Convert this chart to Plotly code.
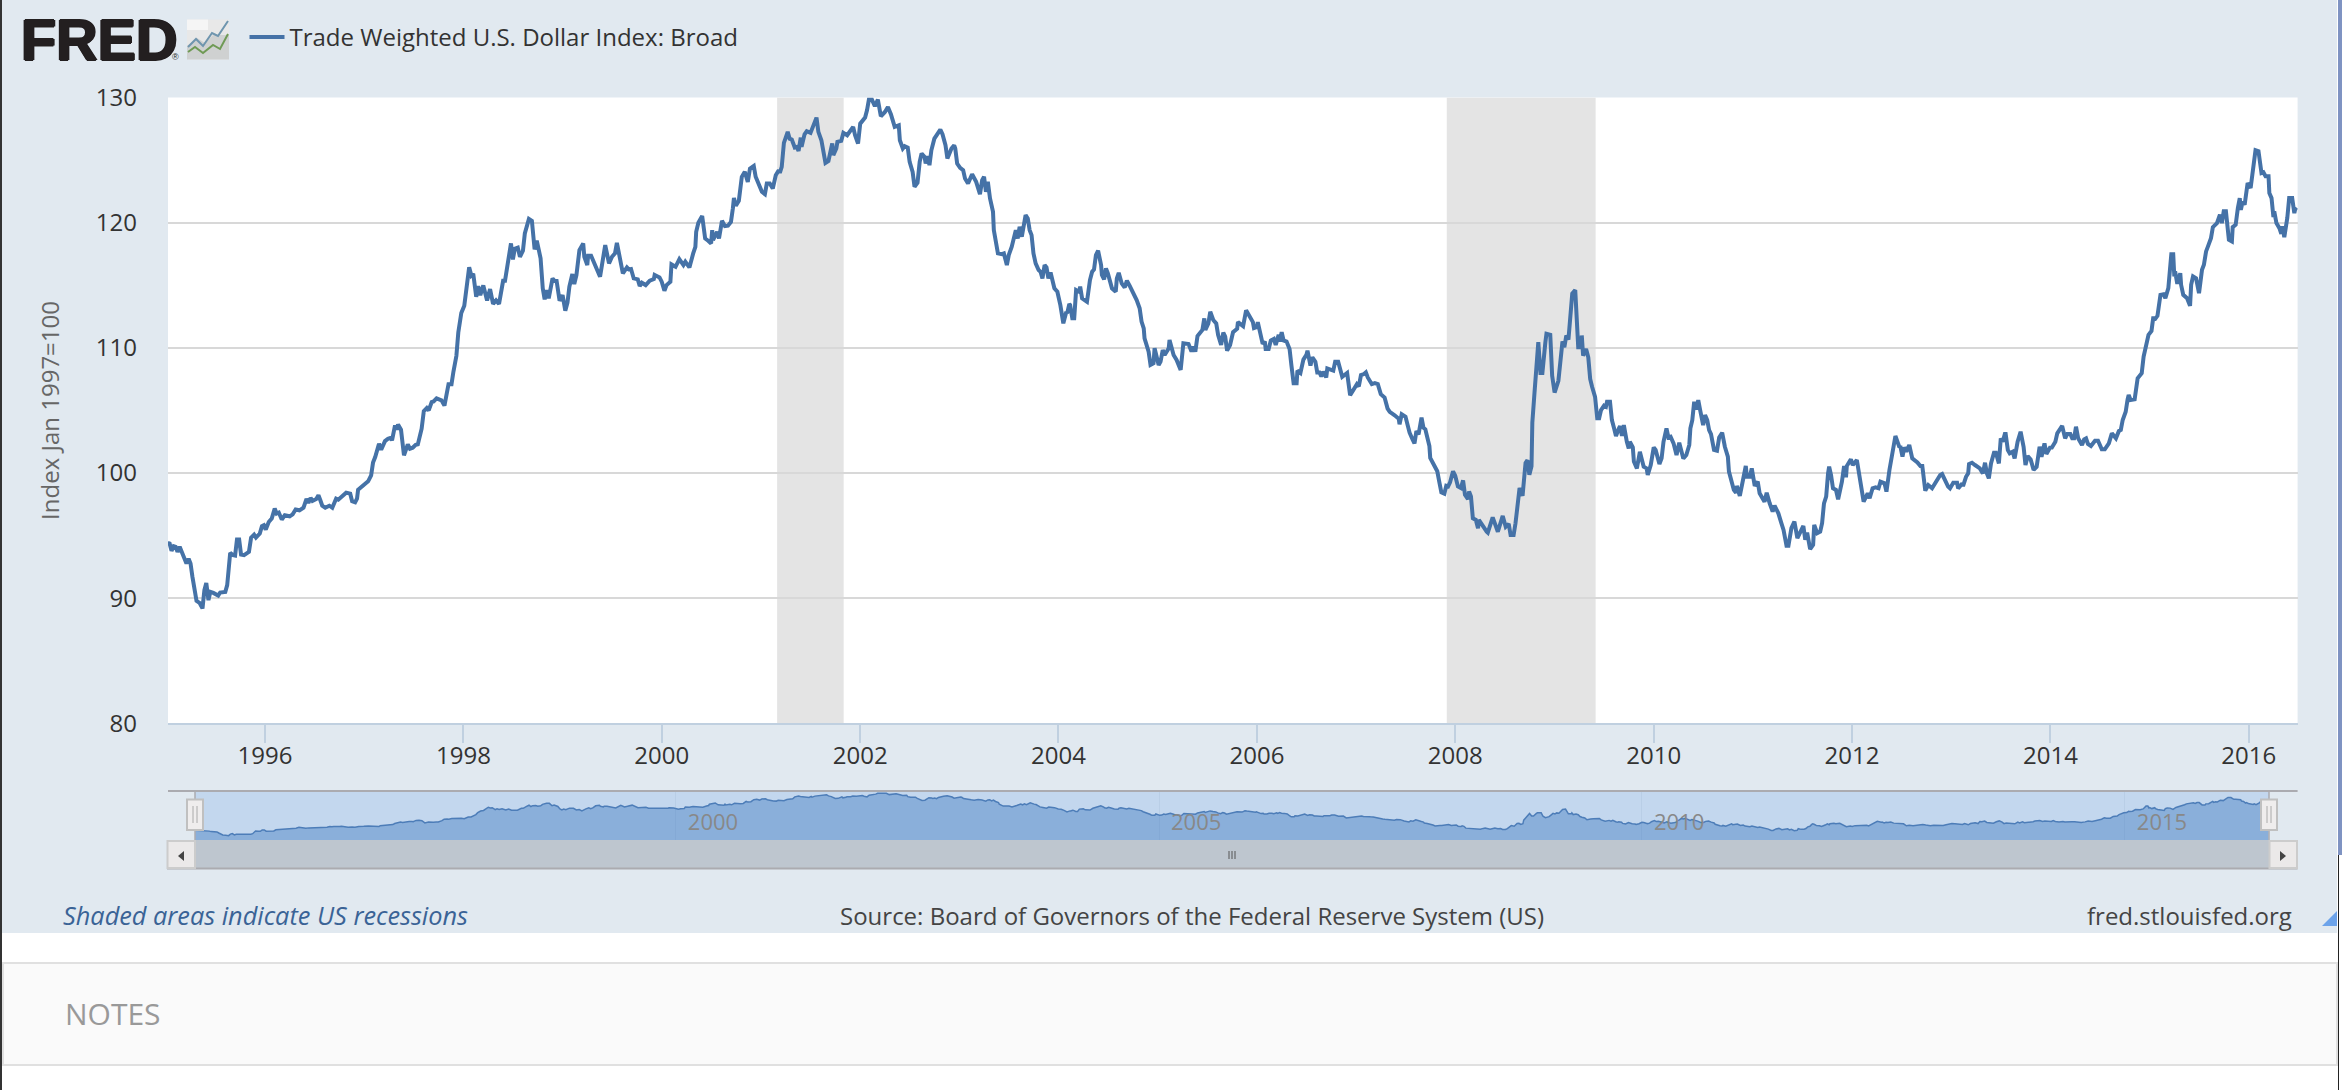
import pandas as pd
import plotly.graph_objects as go

W, H = 2342, 1090

SERIES_NAME = "Trade Weighted U.S. Dollar Index: Broad"
AXIS_TITLE = "Index Jan 1997=100"

years_1995_97 = [1995.02,1995.04,1995.06,1995.08,1995.10,1995.12,1995.14,1995.17,1995.19,1995.21,1995.23,1995.25,1995.27,1995.31,1995.34,1995.37,1995.39,1995.41,1995.43,1995.45,1995.48,1995.53,1995.55,1995.60,1995.62,1995.65,1995.68,1995.70,1995.72,1995.74,1995.76,1995.79,1995.84,1995.86,1995.89,1995.91,1995.95,1995.97,1995.99,1996.01,1996.04,1996.07,1996.10,1996.12,1996.14,1996.17,1996.20,1996.23,1996.25,1996.28,1996.31,1996.35,1996.39,1996.42,1996.44,1996.46,1996.48,1996.52,1996.54,1996.56,1996.58,1996.61,1996.65,1996.68,1996.72,1996.74,1996.77,1996.82,1996.86,1996.88,1996.91,1996.93,1996.94,1996.99,1997.04,1997.07,1997.09,1997.11,1997.15,1997.17,1997.21,1997.24,1997.27,1997.28,1997.31,1997.33,1997.34,1997.37,1997.40,1997.44,1997.46,1997.49,1997.52,1997.54,1997.58,1997.60,1997.63,1997.65,1997.68,1997.70,1997.73,1997.78,1997.81,1997.85,1997.88,1997.90,1997.93,1997.95,1997.98]
values_1995_97 = [94.42,94.36,93.78,94.15,94.10,93.70,94.10,93.51,93.03,92.77,93.14,92.77,91.70,89.79,89.63,89.18,90.64,91.22,89.84,90.50,90.42,90.21,90.45,90.50,91.04,93.62,93.43,93.40,94.68,94.68,93.48,93.43,93.70,94.84,95.08,94.84,95.16,95.75,95.83,95.48,96.09,96.36,97.16,96.76,96.84,96.28,96.62,96.62,96.54,96.70,97.08,97.02,97.23,97.93,97.61,98.01,97.77,97.93,98.22,97.82,97.39,97.23,97.39,97.23,97.95,97.87,98.09,98.43,98.35,97.74,97.66,97.95,98.67,99.02,99.34,99.82,100.83,101.28,102.34,101.86,102.55,102.74,102.82,102.61,103.80,103.46,103.88,103.46,101.41,102.29,101.94,102.02,102.26,102.29,103.54,104.95,105.19,105.00,105.67,105.72,105.96,105.81,105.39,107.10,107.10,108.09,109.37,111.23,112.79]

years_1998_99 = [1998.01,1998.04,1998.06,1998.08,1998.10,1998.13,1998.15,1998.17,1998.20,1998.24,1998.27,1998.30,1998.33,1998.36,1998.40,1998.42,1998.45,1998.48,1998.50,1998.52,1998.55,1998.57,1998.60,1998.62,1998.66,1998.69,1998.72,1998.74,1998.76,1998.78,1998.80,1998.82,1998.84,1998.86,1998.90,1998.92,1998.94,1998.97,1999.00,1999.03,1999.05,1999.07,1999.10,1999.12,1999.14,1999.17,1999.21,1999.22,1999.25,1999.26,1999.29,1999.33,1999.38,1999.43,1999.47,1999.50,1999.53,1999.55,1999.61,1999.65,1999.67,1999.69,1999.72,1999.76,1999.78,1999.80,1999.84,1999.88,1999.92,1999.93,1999.98]
values_1998_99 = [113.36,115.50,116.44,115.79,115.93,114.08,114.93,114.22,114.99,113.79,114.70,113.51,113.79,113.51,115.36,115.36,116.98,118.35,117.07,117.92,118.01,117.28,117.76,119.14,120.31,120.15,117.87,118.56,117.87,117.15,114.76,113.88,114.62,113.96,115.55,115.34,115.34,113.77,114.22,112.97,113.61,114.89,115.90,115.10,115.82,117.81,118.35,117.28,116.62,117.36,117.36,116.62,115.69,118.21,116.75,117.28,117.55,118.40,115.95,116.43,116.27,116.30,115.55,115.47,114.94,115.21,115.02,115.37,115.50,115.82,115.63]

years_2000_01 = [2000.00,2000.03,2000.05,2000.09,2000.10,2000.14,2000.18,2000.22,2000.24,2000.28,2000.32,2000.34,2000.35,2000.37,2000.41,2000.44,2000.47,2000.50,2000.51,2000.52,2000.56,2000.58,2000.61,2000.64,2000.67,2000.70,2000.72,2000.73,2000.75,2000.78,2000.81,2000.84,2000.87,2000.89,2000.93,2000.95,2001.01,2001.04,2001.06,2001.09,2001.12,2001.15,2001.18,2001.19,2001.21,2001.23,2001.27,2001.29,2001.31,2001.34,2001.36,2001.38,2001.40,2001.41,2001.44,2001.46,2001.50,2001.53,2001.56,2001.58,2001.61,2001.65,2001.68,2001.72,2001.73,2001.76,2001.77,2001.81,2001.83,2001.87,2001.91,2001.93,2001.95,2001.98]
values_2000_01 = [115.29,114.57,115.02,115.29,116.67,116.48,117.09,116.62,116.88,116.43,117.55,118.08,119.28,120.00,120.53,118.74,118.56,118.35,119.41,118.61,119.28,118.74,120.15,119.73,119.76,120.07,121.14,121.99,121.35,121.75,123.67,124.07,123.27,124.33,124.54,123.67,122.47,122.28,123.13,123.13,122.73,123.80,124.20,123.99,124.46,126.38,127.26,126.72,126.65,126.01,126.06,125.74,126.80,126.06,127.07,127.31,127.18,127.79,128.40,127.26,126.59,124.78,124.94,126.33,125.40,125.93,126.46,126.54,127.18,126.99,127.52,127.66,126.99,126.33]

years_2002_03 = [2002.00,2002.03,2002.05,2002.07,2002.09,2002.12,2002.15,2002.18,2002.21,2002.25,2002.28,2002.31,2002.35,2002.39,2002.40,2002.43,2002.45,2002.48,2002.50,2002.53,2002.55,2002.58,2002.60,2002.62,2002.65,2002.66,2002.68,2002.70,2002.72,2002.75,2002.77,2002.81,2002.83,2002.86,2002.88,2002.92,2002.95,2002.96,2002.98,2003.01,2003.04,2003.06,2003.09,2003.13,2003.17,2003.21,2003.23,2003.25,2003.27,2003.29,2003.31,2003.34,2003.35,2003.37,2003.39,2003.43,2003.45,2003.48,2003.50,2003.53,2003.57,2003.59,2003.61,2003.63,2003.67,2003.69,2003.71,2003.73,2003.75,2003.77,2003.80,2003.82,2003.84,2003.86,2003.88,2003.90,2003.92,2003.96,2003.99]
values_2002_03 = [127.92,128.24,128.40,128.99,129.84,129.84,129.31,129.84,128.51,128.85,129.25,128.67,127.66,127.79,126.59,125.93,126.11,126.01,124.86,124.06,122.87,123.19,124.86,125.53,125.26,124.73,125.32,124.60,125.79,126.72,126.99,127.44,127.07,126.19,125.13,125.93,126.19,125.93,124.73,124.38,124.20,123.53,123.13,123.88,123.27,122.28,123.40,123.67,122.47,123.27,121.94,120.87,119.41,118.21,117.55,117.49,117.55,116.62,117.42,118.08,119.41,118.74,119.68,118.88,120.61,120.34,119.41,119.01,117.55,116.75,116.22,116.08,115.55,116.62,116.43,115.55,116.03,114.76,114.49]

years_2004_05 = [2004.02,2004.05,2004.08,2004.09,2004.11,2004.12,2004.14,2004.16,2004.18,2004.21,2004.22,2004.24,2004.29,2004.32,2004.34,2004.36,2004.38,2004.40,2004.43,2004.44,2004.46,2004.48,2004.50,2004.54,2004.58,2004.59,2004.61,2004.64,2004.67,2004.69,2004.72,2004.76,2004.79,2004.82,2004.84,2004.86,2004.87,2004.91,2004.93,2004.96,2004.97,2005.01,2005.03,2005.05,2005.07,2005.11,2005.12,2005.16,2005.19,2005.23,2005.26,2005.31,2005.34,2005.36,2005.38,2005.40,2005.43,2005.45,2005.47,2005.48,2005.51,2005.53,2005.56,2005.59,2005.61,2005.64,2005.66,2005.68,2005.70,2005.73,2005.76,2005.80,2005.81,2005.86,2005.89,2005.91,2005.96,2005.97]
values_2004_05 = [113.42,111.96,112.89,112.76,113.50,113.42,112.36,112.36,114.62,114.49,114.89,113.96,113.69,115.42,116.08,116.27,117.42,117.76,116.62,115.82,115.47,116.35,115.95,114.76,114.49,115.55,116.00,115.15,114.83,115.37,114.97,114.36,113.82,113.16,112.10,111.56,110.76,109.70,108.64,108.77,109.97,108.64,108.90,109.83,109.43,109.97,110.63,109.43,109.04,108.24,110.37,110.31,109.70,110.10,109.70,110.95,111.30,111.43,112.36,111.43,111.96,112.89,112.23,111.96,111.03,110.23,111.22,110.90,109.78,110.23,111.26,111.53,112.06,111.74,113.00,112.73,112.06,111.58]

years_2006_07 = [2006.00,2006.01,2006.03,2006.06,2006.08,2006.09,2006.12,2006.14,2006.17,2006.19,2006.22,2006.23,2006.25,2006.27,2006.30,2006.33,2006.35,2006.37,2006.40,2006.41,2006.44,2006.47,2006.50,2006.51,2006.54,2006.56,2006.59,2006.61,2006.63,2006.65,2006.67,2006.70,2006.71,2006.74,2006.77,2006.79,2006.82,2006.86,2006.91,2006.94,2006.98,2007.01,2007.03,2007.05,2007.08,2007.10,2007.12,2007.16,2007.19,2007.22,2007.25,2007.29,2007.32,2007.34,2007.39,2007.43,2007.44,2007.46,2007.50,2007.54,2007.57,2007.59,2007.61,2007.63,2007.66,2007.68,2007.70,2007.72,2007.74,2007.75,2007.78,2007.82,2007.84,2007.86,2007.89,2007.91,2007.93,2007.95,2007.98]
values_2006_07 = [111.66,112.06,111.39,110.32,110.51,109.92,109.92,110.59,110.72,110.24,111.04,110.51,111.26,110.59,110.51,109.92,108.58,107.18,107.18,108.18,107.99,109.06,109.44,109.78,108.58,109.25,108.90,108.04,108.04,107.72,108.10,107.64,108.36,108.31,108.18,108.90,108.90,107.69,107.99,106.22,106.70,107.10,106.92,107.83,107.91,108.04,107.64,107.10,107.18,107.10,106.30,106.03,105.15,104.88,104.61,104.34,103.89,104.69,104.50,103.22,102.68,102.36,103.35,103.08,104.42,103.62,103.49,102.68,102.15,101.21,100.75,100.14,99.33,98.45,98.34,98.98,98.93,99.25,100.14]

years_2008_09 = [2008.00,2008.03,2008.06,2008.08,2008.10,2008.13,2008.14,2008.16,2008.18,2008.21,2008.23,2008.24,2008.27,2008.32,2008.33,2008.36,2008.38,2008.43,2008.48,2008.51,2008.54,2008.56,2008.59,2008.61,2008.63,2008.65,2008.68,2008.70,2008.71,2008.73,2008.75,2008.77,2008.78,2008.80,2008.84,2008.86,2008.88,2008.91,2008.92,2008.96,2008.98,2009.00,2009.04,2009.06,2009.08,2009.10,2009.12,2009.14,2009.18,2009.21,2009.24,2009.27,2009.275,2009.29,2009.32,2009.34,2009.36,2009.38,2009.41,2009.43,2009.45,2009.47,2009.50,2009.52,2009.53,2009.56,2009.58,2009.60,2009.62,2009.65,2009.66,2009.68,2009.70,2009.73,2009.75,2009.76,2009.79,2009.80,2009.83,2009.86,2009.90,2009.93,2009.94,2009.97]
values_2008_09 = [99.79,98.93,98.80,99.41,98.26,97.91,98.53,98.13,96.38,96.25,95.58,96.25,95.85,95.31,95.23,96.12,96.46,95.31,96.57,95.71,95.93,95.04,95.04,95.98,97.86,98.80,98.18,99.60,100.81,101.02,99.87,100.54,104.02,106.43,110.45,107.99,107.99,110.45,111.12,111.04,107.77,106.43,107.37,108.85,110.51,110.05,110.99,110.67,114.34,114.61,110.05,110.05,110.99,109.38,109.92,109.25,107.51,106.89,106.09,104.37,104.37,105.03,105.38,105.30,105.70,105.70,104.23,103.57,102.96,103.57,103.75,102.96,103.83,102.50,101.97,102.50,102.05,100.91,100.37,101.70,100.51,100.37,99.84,100.64]

years_2010_11 = [2010.00,2010.02,2010.06,2010.08,2010.10,2010.13,2010.15,2010.17,2010.20,2010.23,2010.26,2010.30,2010.33,2010.36,2010.37,2010.39,2010.41,2010.43,2010.45,2010.47,2010.50,2010.52,2010.54,2010.56,2010.58,2010.61,2010.64,2010.66,2010.69,2010.72,2010.75,2010.76,2010.79,2010.81,2010.83,2010.84,2010.87,2010.90,2010.93,2010.94,2010.97,2010.99,2011.02,2011.05,2011.07,2011.12,2011.14,2011.17,2011.20,2011.22,2011.26,2011.29,2011.31,2011.34,2011.36,2011.39,2011.42,2011.45,2011.48,2011.51,2011.53,2011.55,2011.58,2011.61,2011.62,2011.65,2011.68,2011.70,2011.72,2011.74,2011.76,2011.77,2011.79,2011.81,2011.84,2011.86,2011.90,2011.92,2011.94,2011.95,2011.99]
values_2010_11 = [102.05,101.84,100.72,101.17,102.50,103.57,102.85,102.90,102.37,101.44,102.42,101.17,101.44,102.24,103.57,104.23,105.70,105.08,105.83,105.03,103.83,104.63,104.23,103.43,103.11,101.84,101.78,102.85,103.22,102.10,101.31,100.11,99.04,98.65,98.43,98.97,98.17,99.31,100.56,99.71,99.71,100.37,98.97,99.31,98.38,97.71,98.43,97.58,96.92,97.40,96.78,95.99,95.45,94.18,94.18,95.59,96.12,94.79,95.24,95.77,94.66,95.24,93.91,94.26,95.85,95.19,95.32,95.99,97.58,98.11,99.98,100.51,99.84,98.78,98.65,97.90,99.31,100.56,99.66,100.56,101.09]

years_2012_13 = [2012.01,2012.05,2012.07,2012.10,2012.12,2012.16,2012.18,2012.21,2012.24,2012.27,2012.29,2012.33,2012.35,2012.38,2012.41,2012.44,2012.48,2012.49,2012.51,2012.53,2012.55,2012.58,2012.61,2012.66,2012.69,2012.71,2012.74,2012.77,2012.81,2012.85,2012.89,2012.91,2012.94,2012.97,2012.99,2013.02,2013.06,2013.07,2013.11,2013.12,2013.15,2013.17,2013.18,2013.21,2013.24,2013.29,2013.32,2013.34,2013.36,2013.38,2013.40,2013.43,2013.45,2013.48,2013.50,2013.52,2013.54,2013.55,2013.57,2013.59,2013.62,2013.64,2013.67,2013.70,2013.73,2013.75,2013.77,2013.80,2013.83,2013.86,2013.89,2013.91,2013.94,2013.96]
values_2012_13 = [100.64,101.04,100.11,98.78,97.71,98.38,97.98,98.78,98.86,98.78,99.31,99.18,98.51,100.24,101.84,102.96,102.05,102.16,101.31,102.05,101.70,102.24,101.17,100.85,100.56,100.56,98.59,99.04,98.78,99.31,99.84,99.92,99.31,98.91,98.77,99.22,99.22,98.77,99.17,98.96,99.70,99.97,100.72,100.82,100.64,100.37,99.97,100.82,99.97,99.57,100.77,101.62,101.62,100.77,102.77,102.50,103.12,103.12,101.84,101.57,101.70,101.17,102.50,103.30,102.10,100.64,101.36,101.09,100.24,100.50,102.10,101.30,102.37,101.52]

years_2014_16 = [2014.00,2014.01,2014.05,2014.07,2014.12,2014.15,2014.17,2014.20,2014.22,2014.24,2014.26,2014.28,2014.32,2014.34,2014.36,2014.38,2014.41,2014.45,2014.48,2014.52,2014.55,2014.59,2014.62,2014.66,2014.69,2014.71,2014.73,2014.76,2014.78,2014.79,2014.81,2014.85,2014.88,2014.92,2014.94,2014.97,2014.99,2015.02,2015.04,2015.05,2015.08,2015.11,2015.14,2015.16,2015.19,2015.21,2015.22,2015.24,2015.25,2015.26,2015.28,2015.31,2015.32,2015.34,2015.38,2015.41,2015.42,2015.44,2015.47,2015.50,2015.53,2015.55,2015.57,2015.59,2015.62,2015.64,2015.68,2015.71,2015.73,2015.75,2015.77,2015.80,2015.83,2015.84,2015.87,2015.89,2015.91,2015.92,2015.94,2015.96,2015.99,2016.02,2016.05,2016.07,2016.10,2016.11,2016.13,2016.15,2016.17,2016.20,2016.21,2016.23,2016.25,2016.26,2016.28,2016.31,2016.33,2016.34,2016.36,2016.39,2016.41,2016.44,2016.46,2016.47,2016.49]
values_2014_16 = [102.10,101.96,102.50,103.17,103.76,102.77,103.12,103.12,102.77,102.77,103.70,102.77,102.24,102.69,102.77,102.32,102.16,102.58,102.58,101.89,101.89,102.37,103.17,102.77,103.36,103.44,104.24,104.90,105.89,106.24,105.84,105.89,107.57,107.97,109.30,110.50,111.04,111.36,112.50,112.24,112.56,114.24,114.29,113.97,114.77,116.51,117.49,117.49,115.71,116.11,115.12,115.97,115.04,114.24,113.97,113.36,115.04,115.71,115.57,114.37,116.24,116.64,117.71,118.11,118.77,119.65,119.97,120.64,119.97,120.91,120.91,118.64,118.51,119.65,119.84,121.17,121.97,121.04,121.71,121.44,123.17,122.77,124.51,125.79,125.71,125.04,123.97,124.03,123.71,123.71,122.37,121.97,120.45,120.91,119.97,119.57,119.12,119.71,118.85,120.37,121.97,121.97,120.77,121.09,120.99]

year_parts = [years_1995_97, years_1998_99, years_2000_01, years_2002_03, years_2004_05,
              years_2006_07, years_2008_09, years_2010_11, years_2012_13, years_2014_16]
value_parts = [values_1995_97, values_1998_99, values_2000_01, values_2002_03, values_2004_05,
               values_2006_07, values_2008_09, values_2010_11, values_2012_13, values_2014_16]
for a, b in zip(year_parts, value_parts):
    assert len(a) == len(b), (a[0], len(a), len(b))
years = [y for p in year_parts for y in p]
values = [v for p in value_parts for v in p]


def to_date(y):
    yr = int(y)
    return (pd.Timestamp(yr, 1, 1) + pd.Timedelta(days=(y - yr) * 365.25)).strftime("%Y-%m-%d")


dates = [to_date(y) for y in years]

recession_starts = ["2001-03-01", "2007-12-01"]
recession_ends = ["2001-11-01", "2009-06-01"]
x_start, x_end = to_date(1995.024), to_date(2016.494)
nav_ticks = ["2000-01-01", "2005-01-01", "2010-01-01", "2015-01-01"]
nav_tick_text = ["2000", "2005", "2010", "2015"]

BLUE = "#4572A7"
PANEL = "#E1E9F0"
FONT = "Open Sans"


def X(px):
    return px / W


def Y(py):
    return 1 - py / H


def rect(x0, y0, x1, y1, fill, line=None, lw=0, layer="below"):
    return dict(type="rect", xref="paper", yref="paper", x0=X(x0), x1=X(x1), y0=Y(y0), y1=Y(y1),
                fillcolor=fill, line=dict(color=line or fill, width=lw), layer=layer)


def seg(x0, y0, x1, y1, color, lw=1, layer="below"):
    return dict(type="line", xref="paper", yref="paper", x0=X(x0), x1=X(x1), y0=Y(y0), y1=Y(y1),
                line=dict(color=color, width=lw), layer=layer)


def path(pts, color=None, fill=None, lw=0, layer="above", close=False):
    d = "M " + " L ".join(f"{X(a):.5f},{Y(b):.5f}" for a, b in pts) + (" Z" if close else "")
    return dict(type="path", xref="paper", yref="paper", path=d,
                fillcolor=fill or "rgba(0,0,0,0)", line=dict(color=color or "rgba(0,0,0,0)", width=lw), layer=layer)


shapes = [
    rect(2, 0, 2337, 933, PANEL),
    rect(0, 0, 2, 1090, "#333333"),
    rect(2338, 0, 2342, 855, "#7F93C2"),
    rect(2338, 855, 2339, 1090, "#222222"),
    rect(3, 963, 2337, 1065, "#FAFAFA", "#E0E0E0", 2),
    rect(168, 97.6, 2297.6, 723.3, "#FFFFFF"),
    # range selector frame
    rect(195, 791.5, 2269, 840, "#C3D7EE"),
    rect(195, 840, 2269, 868, "#BEC6CF"),
    seg(168, 791, 2297.6, 791, "#ABABB0", 2, "above"),
    seg(167, 868.5, 2297.6, 868.5, "#ABABB0", 2, "above"),
    seg(195, 791, 195, 840, "#ABABB0", 1.5, "above"),
    seg(2269, 791, 2269, 840, "#ABABB0", 1.5, "above"),
]
for sx, tip in ((167, -1), (2269, 1)):
    shapes.append(rect(sx + 0.5, 841, sx + 28, 868, "#EBE9E9", "#CCCCCC", 2, "above"))
    cx = sx + 14
    shapes.append(path([(cx + 3 * tip, 856), (cx - 3 * tip, 851), (cx - 3 * tip, 861)], fill="#444444", close=True))
for hx in (195, 2269):
    shapes.append(rect(hx - 8, 799.5, hx + 8, 830, "#EFEDED", "#C0C0C0", 2, "above"))
    for dx in (-2, 2):
        shapes.append(seg(hx + dx, 806, hx + dx, 823, "#AAAAAA", 1, "above"))
for gx in (-3, 0, 3):
    shapes.append(seg(1232 + gx, 851, 1232 + gx, 859, "#555555", 1, "above"))

# logo picture
shapes += [
    dict(type="rect", xref="paper", yref="paper", x0=X(187), x1=X(229), y0=Y(19.5), y1=Y(59.5),
         fillcolor="#E8E8E8", line=dict(width=0), layer="above"),
    rect(187, 19.5, 208, 30, "#F5F5F5", layer="above"),
    path([(187, 59.5), (187, 46), (197, 38), (205, 43), (213, 35), (229, 35), (229, 59.5)], fill="#CFD1D1", close=True),
    path([(188, 47), (196, 39), (203, 46), (212, 33), (218, 36), (228, 21)], color="#6F95AE", lw=2),
    path([(188, 52), (195, 47), (203, 53), (213, 45), (220, 49), (228, 34)], color="#6F9A55", lw=2),
    # resize grip
    path([(2322, 926), (2337, 926), (2337, 911)], fill="#6CA3EA", close=True),
]

# recession bands, through the axis scale
for a, b in zip(recession_starts, recession_ends):
    shapes.append(dict(type="rect", xref="x", yref="y", x0=a, x1=b, y0=80, y1=130,
                       fillcolor="#E4E4E4", line=dict(width=0), layer="below"))

annotations = [
    dict(text="<b>FRED</b>", x=X(19), y=Y(39.5), xanchor="left", yanchor="middle",
         font=dict(family="Liberation Sans", size=57.5, color="#231F20",
                   shadow="1.2px 0 #231F20, -1.2px 0 #231F20, 0 0.8px #231F20, 0 -0.8px #231F20")),
    dict(text="®", x=X(175.5), y=Y(57), xanchor="center", yanchor="middle",
         font=dict(family="Liberation Sans", size=9, color="#231F20")),
    dict(text="<i>Shaded areas indicate US recessions</i>", x=X(61), y=Y(915), xanchor="left", yanchor="middle",
         font=dict(family=FONT, size=25.3, color="#3A6396")),
    dict(text="Source: Board of Governors of the Federal Reserve System (US)", x=X(1192), y=Y(915),
         xanchor="center", yanchor="middle", font=dict(family=FONT, size=24, color="#444444")),
    dict(text="fred.stlouisfed.org", x=X(2294), y=Y(915), xanchor="right", yanchor="middle",
         font=dict(family=FONT, size=24, color="#444444")),
    dict(text="NOTES", x=X(63), y=Y(1013), xanchor="left", yanchor="middle",
         font=dict(family=FONT, size=30, color="#999999")),
]
for a in annotations:
    a.update(xref="paper", yref="paper", showarrow=False)

fig = go.Figure()
fig.add_trace(go.Scatter(x=dates, y=values, mode="lines", name=SERIES_NAME,
                         line=dict(color=BLUE, width=4), hoverinfo="x+y"))
fig.add_trace(go.Scatter(x=dates, y=values, mode="lines", xaxis="x2", yaxis="y2", showlegend=False,
                         line=dict(color="#4D7DB8", width=1.5), fill="tozeroy",
                         fillcolor="rgba(60,120,190,0.42)", hoverinfo="skip"))

fig.update_layout(
    width=W, height=H, margin=dict(l=0, r=0, t=0, b=0, autoexpand=False),
    paper_bgcolor="#FFFFFF", plot_bgcolor="rgba(0,0,0,0)",
    font=dict(family=FONT, color="#333333"),
    showlegend=True,
    legend=dict(x=X(244.5), y=Y(37.5), xanchor="left", yanchor="middle", bgcolor="rgba(0,0,0,0)",
                font=dict(family=FONT, size=24, color="#333333"), itemwidth=35),
    xaxis=dict(domain=[X(168), X(2297.6)], type="date", range=[x_start, x_end],
               tick0="1996-01-01", dtick="M24", tickformat="%Y",
               ticks="outside", ticklen=18, tickwidth=1.5, tickcolor="#C0D0E0", ticklabelstandoff=-8,
               showline=True, linecolor="#C0D0E0", linewidth=2, showgrid=False, zeroline=False,
               tickfont=dict(family=FONT, size=24, color="#333333"), anchor="y"),
    yaxis=dict(domain=[Y(723.3), Y(97.6)], range=[80, 130], tick0=80, dtick=10,
               ticks="", ticklabelstandoff=30, showgrid=True, gridcolor="#D8D8D8", gridwidth=2, zeroline=False,
               showline=False, tickfont=dict(family=FONT, size=24, color="#333333"),
               title=dict(text=AXIS_TITLE, font=dict(family=FONT, size=24, color="#666666"), standoff=29), anchor="x"),
    xaxis2=dict(domain=[X(195), X(2269)], type="date", range=[x_start, x_end], anchor="y2",
                tickvals=nav_ticks, ticktext=nav_tick_text, ticklabelposition="inside right", ticklabelshift=12,
                ticks="", showgrid=True, gridcolor="#B9CEE6", gridwidth=1, zeroline=False, showline=False,
                tickfont=dict(family=FONT, size=22, color="#888888")),
    yaxis2=dict(domain=[Y(840), Y(791.5)], range=[85, 131.5], anchor="x2", visible=False),
    shapes=shapes, annotations=annotations,
)

fig.write_html("out.html", config=dict(displayModeBar=False),
               post_script="document.body.style.margin='0';document.body.style.overflow='hidden';")
